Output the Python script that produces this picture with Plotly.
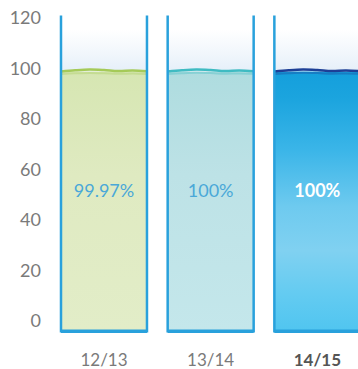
import plotly.graph_objects as go

# Completion rate per school year
seasons = ["12/13", "13/14", "14/15"]
rates = [99.97, 100, 100]
rate_labels = ["99.97%", "100%", "100%"]
y_ticks = [0, 20, 40, 60, 80, 100, 120]

# Styling
glass_top = 121
glass_base = -4
half_w = 0.403
frame_color = "#29a1dc"
water_scales = [
    [[0, "#e2edc8"], [0.6, "#dfeac1"], [1, "#d6e6b2"]],
    [[0, "#c4e7eb"], [0.6, "#bde2e6"], [1, "#aedcdf"]],
    [[0, "#50c5f0"], [0.14, "#63cbf1"], [0.31, "#80d1f1"], [0.48, "#6ecaef"],
     [0.7, "#3ab5e8"], [0.9, "#1ba4de"], [1, "#149fdc"]],
]
surface_colors = ["#a5ca58", "#3fbbc2", "#1d3f96"]
label_colors = ["#4aa8d8", "#4aa8d8", "#ffffff"]
label_weights = ["normal", "normal", "bold"]
sky_scale = [[0, "#e5eff9"], [0.35, "#f2f7fc"], [0.75, "#ffffff"], [1, "#ffffff"]]

fig = go.Figure()

for i, (rate, lbl) in enumerate(zip(rates, rate_labels)):
    x0, x1 = i - half_w, i + half_w
    level = rate - 1.2
    # air above the water
    fig.add_trace(go.Scatter(
        x=[x0, x1, x1, x0, x0], y=[level, level, glass_top, glass_top, level],
        fill="toself", mode="none",
        fillgradient=dict(type="vertical", colorscale=sky_scale),
        hoverinfo="skip", showlegend=False))
    # water body
    fig.add_trace(go.Scatter(
        x=[x0, x1, x1, x0, x0], y=[glass_base, glass_base, level, level, glass_base],
        fill="toself", mode="none",
        fillgradient=dict(type="vertical", colorscale=water_scales[i]),
        hoverinfo="skip", showlegend=False))
    # wavy surface
    n = 7
    xs = [x0 + (x1 - x0) * k / (n - 1) for k in range(n)]
    bumps = [0.0, 0.5, 0.8, 0.6, 0.2, 0.4, 0.1]
    fig.add_trace(go.Scatter(
        x=xs, y=[level + b for b in bumps], mode="lines",
        line=dict(color=surface_colors[i], width=2.5, shape="spline"),
        hoverinfo="skip", showlegend=False))
    fig.add_trace(go.Scatter(
        x=xs, y=[level - 1.0 + b * 0.6 for b in bumps], mode="lines",
        line=dict(color=surface_colors[i], width=2, shape="spline"),
        opacity=0.35, hoverinfo="skip", showlegend=False))
    # glass frame: sides and base
    fig.add_trace(go.Scatter(
        x=[x0, x0, x1, x1], y=[glass_top, glass_base, glass_base, glass_top],
        mode="lines", line=dict(color=frame_color, width=2.5),
        hoverinfo="skip", showlegend=False))
    fig.add_trace(go.Scatter(
        x=[x0, x1], y=[glass_base, glass_base],
        mode="lines", line=dict(color=frame_color, width=3.5),
        hoverinfo="skip", showlegend=False))
    # value label
    fig.add_trace(go.Scatter(
        x=[i], y=[rate / 2 + 1], mode="text", text=[lbl],
        textfont=dict(family="Lato", size=18, color=label_colors[i],
                      weight=label_weights[i]),
        hoverinfo="skip", showlegend=False))

fig.update_layout(
    width=358, height=369,
    margin=dict(l=50, r=0, t=0, b=29),
    paper_bgcolor="white", plot_bgcolor="white",
    xaxis=dict(range=[-0.506, 2.381], tickvals=[0, 1, 2],
               ticktext=[seasons[0], seasons[1],
                         "<b><span style='color:#555555'>" + seasons[2] + "</span></b>"],
               showgrid=False, zeroline=False, showline=False,
               ticklabelstandoff=8,
               tickfont=dict(family="Lato", size=17, color="#7a7a7a")),
    yaxis=dict(range=[-7.5, 127.1], tickvals=y_ticks,
               showgrid=False, zeroline=False, showline=False,
               ticklabelstandoff=8,
               tickfont=dict(family="Lato", size=18, color="#7a7a7a")),
)

fig.write_html("out.html")
